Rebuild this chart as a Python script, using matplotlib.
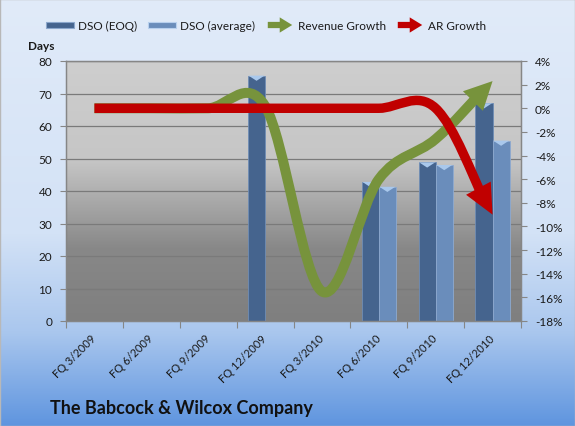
import numpy as np
import matplotlib
matplotlib.use("Agg")
import matplotlib.pyplot as plt
from matplotlib.path import Path
from matplotlib.patches import PathPatch, Polygon, Rectangle, FancyArrowPatch
from matplotlib.colors import LinearSegmentedColormap
from matplotlib.transforms import IdentityTransform

# data
quarters = ["FQ 3/2009", "FQ 6/2009", "FQ 9/2009", "FQ 12/2009",
            "FQ 3/2010", "FQ 6/2010", "FQ 9/2010", "FQ 12/2010"]
dso_eoq = [np.nan, np.nan, np.nan, 75.5, np.nan, 42.8, 48.8, 67.0]
dso_avg = [np.nan, np.nan, np.nan, np.nan, np.nan, 41.3, 48.0, 55.5]
revenue_growth = [0.0, 0.0, 0.0, 0.2, -15.5, -6.0, -2.6, 2.3]
ar_growth = [0.0, 0.0, 0.0, 0.0, 0.0, 0.0, 0.0, -9.0]
days_ticks = list(range(0, 81, 10))
pct_ticks = list(range(-18, 5, 2))

W, H = 575, 427
DPI = 100
plt.rcParams['font.family'] = ['Lato', 'DejaVu Sans']

fig = plt.figure(figsize=(W / DPI, H / DPI), dpi=DPI)


def fx(x):
    return x / W


def fy(y):
    return 1 - y / H


# figure background gradient
bg = fig.add_axes([0, 0, 1, 1], zorder=0)
bg_cmap = LinearSegmentedColormap.from_list(
    "bg", [(0, "#e1ebf9"), (0.55, "#d3e2f6"), (0.78, "#aac7ee"), (1, "#5f95df")])
bg.imshow(np.linspace(0, 1, 256).reshape(-1, 1), aspect="auto", cmap=bg_cmap,
          extent=[0, 1, 0, 1])
bg.set_axis_off()
fig.patches.append(Rectangle((0, 0), 1, 1, transform=fig.transFigure,
                             fill=False, edgecolor="#b8b8b8", lw=1))

# plot area
pos = [fx(66), fy(322), fx(521) - fx(66), fy(62) - fy(322)]
pbg = fig.add_axes(pos, zorder=1)
pbg_cmap = LinearSegmentedColormap.from_list(
    "pbg", [(0, "#cecece"), (0.38, "#c6c6c6"), (0.72, "#888888"), (1, "#7f7f7f")])
pbg.imshow(np.linspace(0, 1, 256).reshape(-1, 1), aspect="auto", cmap=pbg_cmap,
           extent=[0, 1, 0, 1])
pbg.set_axis_off()

ax = fig.add_axes(pos, zorder=2)
ax.set_facecolor("none")
ax2 = ax.twinx()
ax2.set_zorder(3)
ax2.set_facecolor("none")

x = np.arange(len(quarters))
bw = 0.3
dark, light = "#45648e", "#6a8dbb"
bars1 = ax.bar(x - bw / 2, dso_eoq, bw, color=dark, edgecolor="#6f8db5", lw=0.6, zorder=2)
bars2 = ax.bar(x + bw / 2, dso_avg, bw, color=light, edgecolor="#8eaad0", lw=0.6, zorder=2)
# little light caps on top of bars
for bars in (bars1, bars2):
    for b in bars:
        h = b.get_height()
        if np.isnan(h):
            continue
        x0, w = b.get_x(), b.get_width()
        ax.fill([x0 + 0.01, x0 + w - 0.01, x0 + w / 2],
                [h, h, h - 1.6], color="#a9c8ec", zorder=3, lw=0)

ax.set_xlim(-0.5, len(quarters) - 0.5)
ax.set_ylim(0, 80)
ax.set_yticks(days_ticks)
ax.yaxis.grid(True, color="#7a7a7a", lw=0.9)
ax.set_axisbelow(True)
ax.set_xticks(np.arange(len(quarters) + 1) - 0.5)
ax.set_xticklabels([])
ax.set_xticks(x, minor=True)
ax.set_xticklabels(quarters, minor=True, rotation=45, ha="right", va="center",
                   rotation_mode="anchor", fontsize=8, color="#1a1a1a")
ax.tick_params(axis="x", which="minor", length=0, pad=11)
ax.tick_params(axis="x", which="major", length=5, color="#868686", direction="out")
ax.tick_params(axis="y", length=4, color="#868686", labelsize=8.5,
               labelcolor="#1a1a1a", pad=6)

ax2.set_ylim(-18, 4)
ax2.set_yticks(pct_ticks)
ax2.set_yticklabels([f"{t}%" for t in pct_ticks])
ax2.tick_params(axis="y", length=4, color="#868686", labelsize=8.5,
                labelcolor="#1a1a1a", pad=6)
for a in (ax, ax2):
    for s in a.spines.values():
        s.set_color("#868686")
        s.set_linewidth(0.9)


def smooth_arrow(axis, xs, ys, color, lw_pt, head_len, head_w, zorder):
    pts = np.column_stack([xs, ys]).astype(float)
    n = len(pts)
    verts = [pts[0]]
    codes = [Path.MOVETO]
    for i in range(n - 1):
        p0 = pts[max(i - 1, 0)]
        p3 = pts[min(i + 2, n - 1)]
        c1 = pts[i] + (pts[i + 1] - p0) / 6
        c2 = pts[i + 1] - (p3 - pts[i]) / 6
        verts += [c1, c2, pts[i + 1]]
        codes += [Path.CURVE4] * 3
    verts = np.array(verts)
    tr = axis.transData
    tip = tr.transform(verts[-1])
    ctl = tr.transform(verts[-2])
    d = tip - ctl
    d = d / np.hypot(*d)
    end_disp = tip - d * head_len * 0.7
    end = tr.inverted().transform(end_disp)
    shift = end - verts[-1]
    verts[-1] = end
    verts[-2] = verts[-2] + shift
    axis.add_patch(PathPatch(Path(verts, codes), fill=False, edgecolor=color,
                             lw=lw_pt, capstyle="butt", joinstyle="round",
                             zorder=zorder))
    perp = np.array([-d[1], d[0]])
    base = tip - d * head_len
    head = [tip, base + perp * head_w / 2, base - perp * head_w / 2]
    axis.add_artist(Polygon(head, closed=True, color=color, lw=0,
                            transform=IdentityTransform(), zorder=zorder))


smooth_arrow(ax2, x, revenue_growth, "#77933c", 7.2, 28, 28, 4)
smooth_arrow(ax2, x, ar_growth, "#c00000", 6.8, 30, 28, 5)

# legend
leg_y = 26
fig.patches.append(Rectangle((fx(46), fy(leg_y + 3)), fx(28), 6 / H, transform=fig.transFigure,
                             facecolor=dark, edgecolor="#8ba7cc", lw=0.8))
fig.text(fx(78), fy(leg_y), "DSO (EOQ)", fontsize=8.5, va="center", color="#1a1a1a")
fig.patches.append(Rectangle((fx(148), fy(leg_y + 3)), fx(28), 6 / H, transform=fig.transFigure,
                             facecolor=light, edgecolor="#b8d0ee", lw=0.8))
fig.text(fx(180), fy(leg_y), "DSO (average)", fontsize=8.5, va="center", color="#1a1a1a")
for x0, col, lab in [(265, "#77933c", "Revenue Growth"), (395, "#c00000", "AR Growth")]:
    fig.patches.append(FancyArrowPatch(
        (fx(x0), fy(leg_y)), (fx(x0 + 30), fy(leg_y)), transform=fig.transFigure,
        arrowstyle="simple,head_width=1.1,head_length=0.9,tail_width=0.45",
        mutation_scale=10, color=col, lw=0))
    fig.text(fx(x0 + 33), fy(leg_y), lab, fontsize=8.5, va="center", color="#1a1a1a")

fig.text(fx(28), fy(47), "Days", fontsize=8.5, fontweight="bold", va="center", color="#1a1a1a")
fig.text(fx(50), fy(409), "The Babcock & Wilcox Company", fontsize=13,
         fontweight="bold", va="center", color="#111111")

fig.savefig("out.png", dpi=DPI)
